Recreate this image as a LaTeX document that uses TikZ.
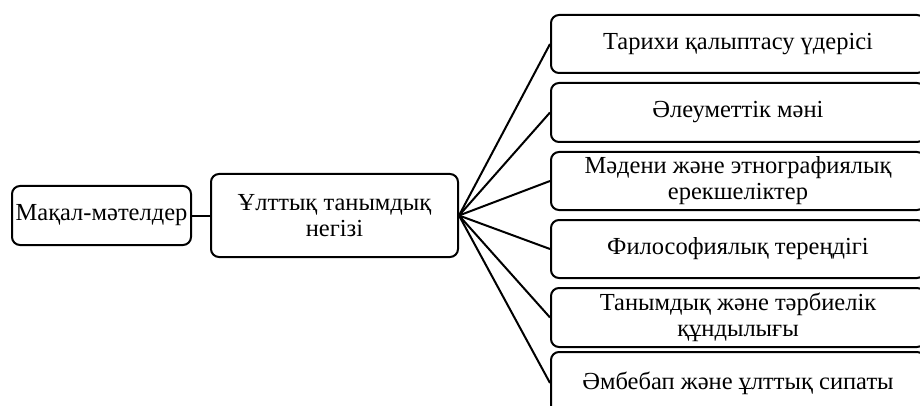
\documentclass[tikz,border=0pt]{standalone}
\usepackage{fontspec}
\setmainfont{Liberation Serif}
\usetikzlibrary{positioning, calc}

\begin{document}
\begin{tikzpicture}[x=1pt,y=-1pt,
		box/.style={draw,rounded corners=8pt,line width=2pt,align=center,inner sep=2pt,font=\fontsize{24.5}{26}\selectfont},
		side/.style={box,minimum width=374pt}]
		\useasboundingbox (0,0) rectangle (920,406);
		\node(1) at (101.5,215.5)[box,minimum width=179pt,minimum height=59pt]{Мақал-мәтелдер};
		\node(2) at (334.5,215.5)[box,minimum width=247pt,minimum height=83pt]{Ұлттық танымдық\\негізі};
		\node(3) at (738,44)[side,minimum height=58pt]{Тарихи қалыптасу үдерісі};
		\node(4) at (738,112.5)[side,minimum height=59pt]{Әлеуметтік мәні};
		\node(5) at (738,181)[side,minimum height=58pt]{Мәдени және этнографиялық\\ерекшеліктер};
		\node(6) at (738,249)[side,minimum height=58pt]{Философиялық тереңдігі};
		\node(7) at (738,317.5)[side,minimum height=59pt]{Танымдық және тәрбиелік\\құндылығы};
		\node(8) at (738,383)[side,minimum height=62pt]{Әмбебап және ұлттық сипаты};
		
		\draw[line width=2pt] (1) to (2);
		\foreach \n in {3,...,8}
			\draw[line width=2pt] (2.east) to (\n.west);
		
	\end{tikzpicture}
\end{document}
